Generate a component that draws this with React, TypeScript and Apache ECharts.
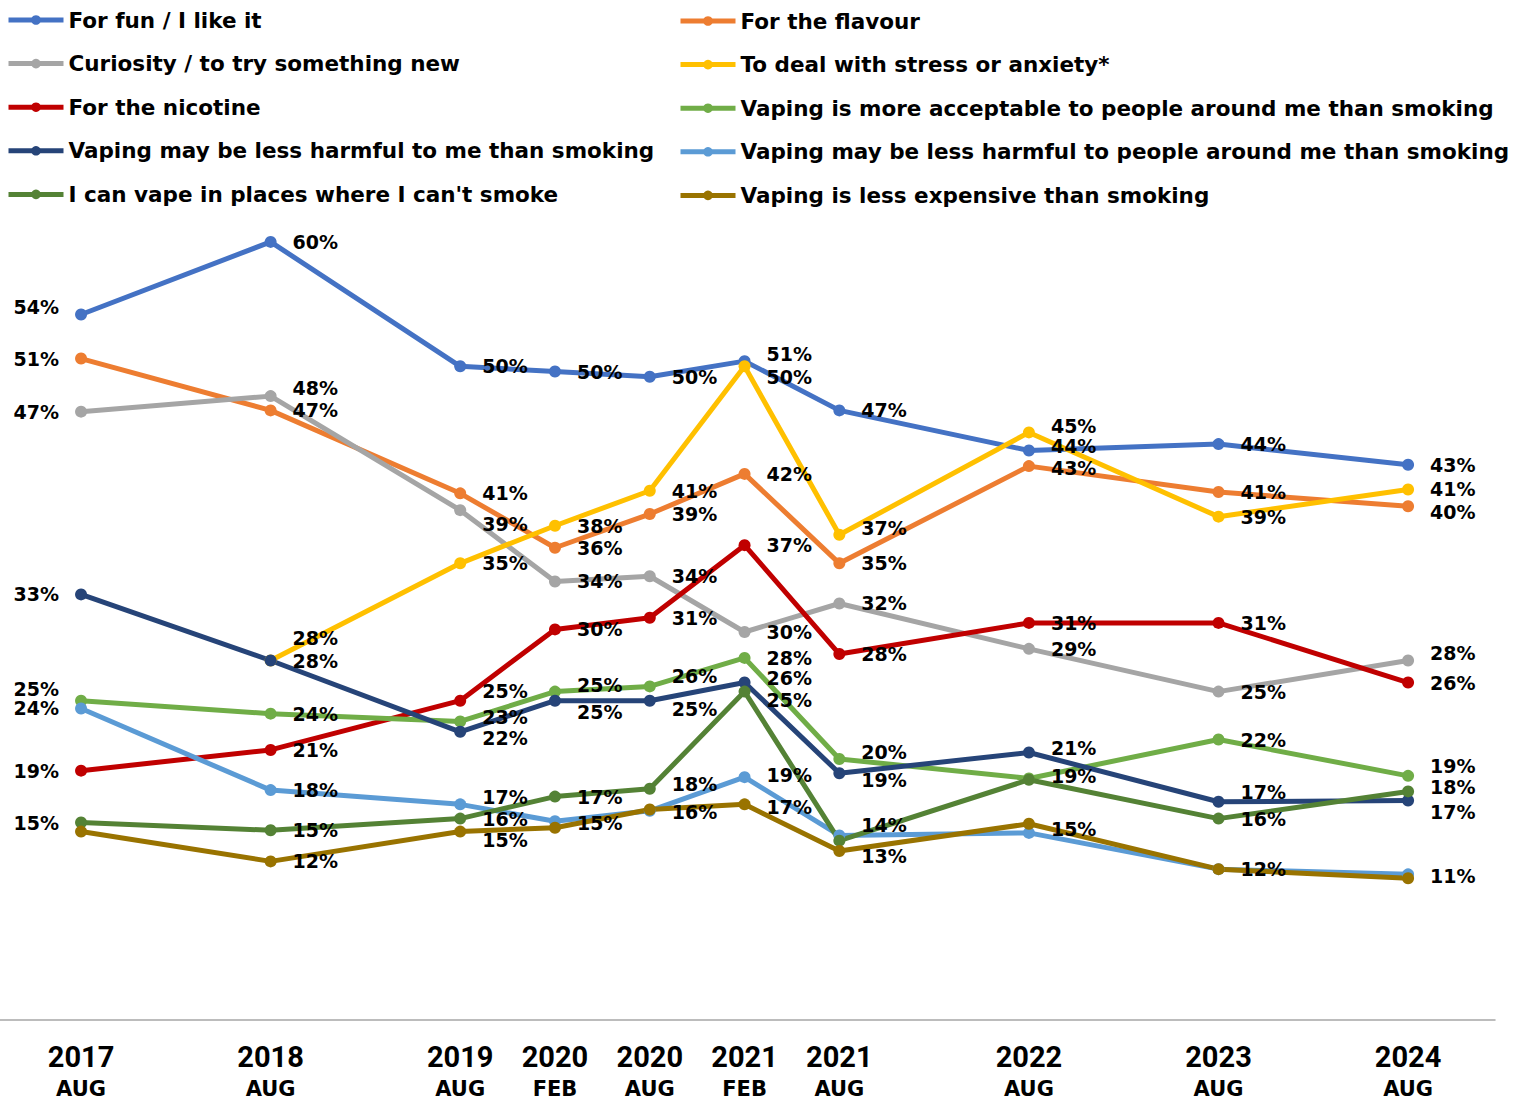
import React, { useEffect, useRef } from 'react';
import * as echarts from 'echarts';

// Survey waves (year + month)
const periods = ['2017 AUG', '2018 AUG', '2019 AUG', '2020 FEB', '2020 AUG', '2021 FEB', '2021 AUG', '2022 AUG', '2023 AUG', '2024 AUG'];

// Percentages
const forFun = [54.4, 60.0, 50.4, 50.0, 49.6, 50.8, 47.0, 43.9, 44.4, 42.8];
const forFlavour = [51.0, 47.0, 40.6, 36.4, 39.0, 42.1, 35.2, 42.7, 40.7, 39.6];
const curiosity = [46.9, 48.1, 39.3, 33.8, 34.2, 29.9, 32.1, 28.6, 25.3, 27.7];
const stressAnxiety = [null, 27.7, 35.2, 38.1, 40.8, 50.4, 37.4, 45.3, 38.8, 40.9];
const forNicotine = [19.2, 20.8, 24.6, 30.1, 31.0, 36.6, 28.2, 30.6, 30.6, 26.0];
const moreAcceptable = [24.6, 23.6, 23.0, 25.3, 25.7, 27.9, 20.1, 18.6, 21.6, 18.8];
const lessHarmfulMe = [32.8, 27.7, 22.2, 24.6, 24.6, 26.0, 19.0, 20.6, 16.8, 16.9];
const lessHarmfulOthers = [24.0, 17.7, 16.6, 15.3, 16.1, 18.7, 14.2, 14.4, 11.6, 11.2];
const vapeInPlaces = [15.2, 14.6, 15.5, 17.2, 17.8, 25.3, 13.8, 18.5, 15.5, 17.6];
const lessExpensive = [14.5, 12.2, 14.5, 14.8, 16.2, 16.6, 13.0, 15.1, 11.6, 10.9];

const seriesDefs = [
  { name: 'For fun / I like it', data: forFun, color: '#4472C4' },
  { name: 'For the flavour', data: forFlavour, color: '#ED7D31' },
  { name: 'Curiosity / to try something new', data: curiosity, color: '#A5A5A5' },
  { name: 'To deal with stress or anxiety*', data: stressAnxiety, color: '#FFC000' },
  { name: 'For the nicotine', data: forNicotine, color: '#C00000' },
  { name: 'Vaping is more acceptable to people around me than smoking', data: moreAcceptable, color: '#70AD47' },
  { name: 'Vaping may be less harmful to me than smoking', data: lessHarmfulMe, color: '#264478' },
  { name: 'Vaping may be less harmful to people around me than smoking', data: lessHarmfulOthers, color: '#5B9BD5' },
  { name: "I can vape in places where I can't smoke", data: vapeInPlaces, color: '#548235' },
  { name: 'Vaping is less expensive than smoking', data: lessExpensive, color: '#997300' },
];

// Label placement tweaks (vertical nudge in px) and labels hidden due to overlap
const labelNudges: Record<number, Record<number, number>> = {
  0: { 0: -7, 5: -7, 7: -5 },
  1: { 7: 2, 9: 6 },
  2: { 1: -8, 2: 14, 9: -8 },
  3: { 1: -23, 5: 11, 6: -7, 7: -6 },
  4: { 2: -10 },
  5: { 0: -12, 2: -4, 3: -7, 4: -10, 6: -7, 7: -2, 9: -10 },
  6: { 2: 6, 3: 11, 4: 8, 5: -5, 6: 7, 7: -5, 8: -10, 9: 12 },
  7: { 2: -7, 5: -2, 6: -10 },
  8: { 4: -5, 5: 8, 9: -4 },
  9: { 2: 8, 3: -5, 4: 2, 5: 3, 6: 5, 7: 5, 9: -2 },
};
const hiddenLabels: Record<number, number[]> = {
  7: [3, 4, 7, 8, 9],
  8: [6, 7],
  9: [0],
};

const xPos = periods.map((p) => {
  const [y, m] = p.split(' ');
  return (Number(y) - 2017) * 2 + (m === 'FEB' ? -1 : 0);
});

const LABEL_FONT = "'DejaVu Sans', sans-serif";

export default function App() {
  const ref = useRef<HTMLDivElement>(null);
  useEffect(() => {
    if (!ref.current) return;
    const chart = echarts.init(ref.current, null, { renderer: 'svg' });

    const series = seriesDefs.map((s, si) => ({
      name: s.name,
      type: 'line',
      color: s.color,
      symbol: 'circle',
      symbolSize: 12,
      showAllSymbol: true,
      connectNulls: false,
      lineStyle: { width: 5, color: s.color },
      itemStyle: { color: s.color },
      label: {
        show: true,
        position: 'right',
        distance: 16,
        color: '#000',
        fontFamily: LABEL_FONT,
        fontWeight: 'bold',
        fontSize: 19,
        formatter: (p: any) => Math.round(p.value[1]) + '%',
      },
      data: s.data.map((v, i) => {
        if (v === null) return [xPos[i], null];
        const hidden = (hiddenLabels[si] || []).includes(i);
        const dy = (labelNudges[si] || {})[i] || 0;
        return {
          value: [xPos[i], v],
          label: {
            show: !hidden,
            position: i === 0 ? 'left' : 'right',
            offset: [0, dy],
          },
        };
      }),
    }));

    const names = seriesDefs.map((s) => s.name);
    const legendCommon = {
      orient: 'vertical',
      padding: 0,
      itemWidth: 55,
      itemHeight: 12,
      itemGap: 19.6,
      lineStyle: { width: 5 },
      textStyle: {
        fontFamily: LABEL_FONT,
        fontWeight: 'bold',
        fontSize: 21.5,
        color: '#000',
        lineHeight: 24,
      },
      selectedMode: false,
    };

    chart.setOption({
      animation: false,
      backgroundColor: '#fff',
      grid: { left: 0, right: 28, top: 112.3, bottom: 79.5, containLabel: false },
      legend: [
        { ...legendCommon, left: 6, top: 8, data: names.filter((_, i) => i % 2 === 0) },
        { ...legendCommon, left: 678, top: 9, data: names.filter((_, i) => i % 2 === 1) },
      ],
      xAxis: {
        type: 'value',
        min: -0.855,
        max: 14.917,
        splitLine: { show: false },
        axisTick: { show: false },
        axisLine: { show: true, lineStyle: { color: '#A6A6A6', width: 1.5 } },
        axisLabel: {
          show: true,
          customValues: xPos,
          margin: 20,
          formatter: (val: number) => {
            const idx = xPos.findIndex((x) => Math.abs(x - val) < 1e-6);
            if (idx < 0) return '';
            const [y, m] = periods[idx].split(' ');
            return `{y|${y}}\n{m|${m}}`;
          },
          rich: {
            y: {
              fontFamily: 'Roboto, sans-serif',
              fontWeight: 'bold',
              fontSize: 29,
              lineHeight: 34,
              color: '#000',
            },
            m: {
              fontFamily: LABEL_FONT,
              fontWeight: 'bold',
              fontSize: 21,
              lineHeight: 30,
              color: '#000',
            },
          },
        },
      },
      yAxis: {
        type: 'value',
        min: 0,
        max: 70,
        show: false,
        splitLine: { show: false },
      },
      series,
    });

    return () => chart.dispose();
  }, []);

  return (
    <div
      ref={ref}
      style={{ position: 'fixed', left: 0, top: 0, width: 1523, height: 1099, background: '#fff' }}
    />
  );
}
